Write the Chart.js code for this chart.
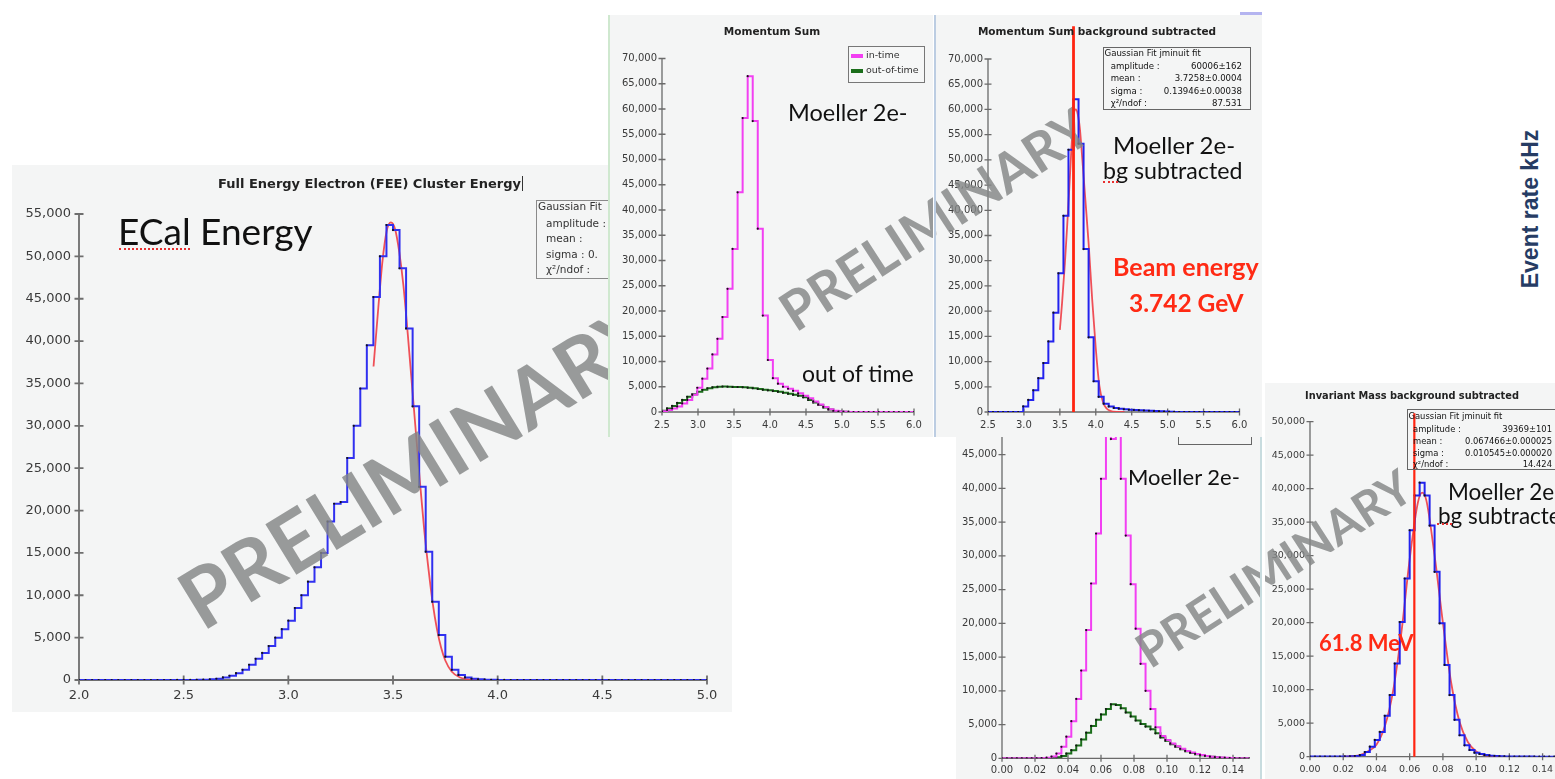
<!DOCTYPE html>
<html>
<head>
<meta charset="utf-8">
<title>Moeller 2e- plots</title>
<script src="https://cdn.jsdelivr.net/npm/chart.js@4.4.1/dist/chart.umd.min.js"></script>
<style>
  body { margin: 0; width: 1555px; height: 779px; overflow: hidden; background: #fff; position: relative; }
  .panel { position: absolute; background: #f4f5f5; overflow: hidden; }
  .panel canvas { position: absolute; left: 0; top: 0; }
  .note { position: absolute; white-space: nowrap; line-height: 1; color: #111; }
  .rect { position: absolute; box-sizing: border-box; }
  #evt { position: absolute; left: 1530px; top: 209px; transform: translate(-50%, -50%) rotate(-90deg);
         font: bold 23px 'Liberation Sans', Arial, sans-serif; color: #263c64; white-space: nowrap; }
</style>
</head>
<body>
<div class="panel" id="p1" style="left:12px;top:165px;width:720px;height:547px"><canvas id="c1"></canvas></div>
<div id="n1"></div>
<div class="panel" id="p2" style="left:609px;top:15px;width:324px;height:422px"><canvas id="c2"></canvas></div>
<div id="n2"></div>
<div class="panel" id="p3" style="left:935px;top:15px;width:327px;height:422px"><canvas id="c3"></canvas></div>
<div id="n3"></div>
<div class="panel" id="p4" style="left:956px;top:437px;width:304px;height:342px"><canvas id="c4"></canvas></div>
<div id="n4"></div>
<div class="panel" id="p5" style="left:1265px;top:383px;width:302px;height:396px"><canvas id="c5"></canvas></div>
<div id="n5"></div>
<div id="evt">Event rate kHz</div>

<script>
// ---- data ----

// Full Energy Electron cluster energy, bins of 0.03125 from 2.0
const feeStart = 2.0;
const feeWidth = 0.03125;
const feeCounts = [
    0, 0, 0, 0, 0, 0, 0, 0, 0, 0,
    0, 0, 0, 0, 0, 5, 5, 10, 20, 40,
    80, 150, 300, 500, 800, 1200, 1800, 2500, 3200, 4000,
    5000, 6000, 7000, 8500, 10000, 11600, 13300, 15000, 18700, 20800,
    21000, 26200, 30000, 34400, 39500, 45200, 50000, 53700, 53100, 48600,
    41500, 32300, 22800, 15150, 9250, 5300, 2750, 1200, 600, 300,
    150, 80, 40, 20, 10, 5, 0, 0, 0, 0,
    0, 0, 0, 0, 0, 0, 0, 0, 0, 0,
    0, 0, 0, 0, 0, 0, 0, 0, 0, 0,
    0, 0, 0, 0, 0, 0
];
const feeFitX = [3.407, 3.43, 3.45, 3.47, 3.49, 3.51, 3.53, 3.55, 3.57, 3.59, 3.61, 3.63, 3.65, 3.67, 3.69, 3.71, 3.73, 3.75, 3.78, 3.82, 3.88, 4.0];
const feeFitY = [37000, 44000, 49500, 53000, 54000, 53200, 50500, 46500, 41000, 35000, 29000, 23000, 17500, 13000, 9000, 6000, 3800, 2300, 1000, 300, 50, 0];
const feeXTicks = [2.0, 2.5, 3.0, 3.5, 4.0, 4.5, 5.0];
const feeYTicks = [0, 5000, 10000, 15000, 20000, 25000, 30000, 35000, 40000, 45000, 50000, 55000];

// Momentum sum, bins of 0.07 from 2.5
const momStart = 2.5;
const momWidth = 0.07;
const momInTime = [
    150, 400, 700, 1100, 1700, 2400, 3400, 4800, 6600, 8600,
    11400, 14500, 18800, 24400, 32300, 43500, 58200, 66500, 57600, 36300,
    19100, 10300, 6700, 5600, 5000, 4600, 4200, 3700, 3200, 2700,
    2100, 1500, 1000, 550, 250, 100, 40, 15, 0, 0,
    0, 0, 0, 0, 0, 0, 0, 0, 0, 0
];
const momOutTime = [
    250, 700, 1200, 1800, 2400, 3000, 3500, 4000, 4400, 4700,
    4900, 5000, 5050, 5000, 4950, 4950, 4900, 4800, 4700, 4550,
    4400, 4300, 4150, 4000, 3800, 3600, 3400, 3200, 2900, 2400,
    1900, 1400, 900, 500, 200, 80, 30, 10, 0, 0,
    0, 0, 0, 0, 0, 0, 0, 0, 0, 0
];
const momBgSub = [
    0, 0, 0, 0, 0, 0, 0, 1100, 2400, 4300,
    6700, 9700, 14000, 19700, 27500, 38900, 52000, 62000, 53200, 32300,
    14800, 6100, 3000, 1650, 1100, 800, 650, 550, 450, 400,
    350, 300, 250, 200, 150, 80, 40, 20, 0, 0,
    0, 0, 0, 0, 0, 0, 0, 0, 0, 0
];
const momFitX = [3.50, 3.53, 3.57, 3.60, 3.63, 3.66, 3.69, 3.72, 3.75, 3.78, 3.80, 3.85, 3.90, 3.95, 4.00, 4.05, 4.10, 4.15, 4.20, 4.30, 4.40];
const momFitY = [16300, 21500, 29500, 36500, 44000, 52000, 58500, 60000, 59000, 56000, 52500, 43000, 33500, 22300, 12600, 5200, 2000, 700, 250, 30, 0];
const momXTicks = [2.5, 3.0, 3.5, 4.0, 4.5, 5.0, 5.5, 6.0];
const momYTicks = [0, 5000, 10000, 15000, 20000, 25000, 30000, 35000, 40000, 45000, 50000, 55000, 60000, 65000, 70000];
const beamLineX = 3.69;
const beamLineTop = 76500;

// Invariant mass, bins of 0.003 from 0
const massStart = 0;
const massWidth = 0.003;
const massInTime = [
    0, 0, 0, 0, 0, 0, 0, 0, 40, 100,
    250, 700, 1700, 3200, 5500, 8800, 13000, 19000, 25900, 33300,
    41400, 48500, 47300, 48500, 41400, 33000, 25800, 19200, 14000, 10000,
    7300, 4600, 3300, 2700, 2200, 1800, 1400, 1100, 850, 650,
    480, 350, 240, 170, 110, 65, 35, 15, 0, 0
];
const massOutTime = [
    0, 0, 0, 0, 0, 0, 0, 0, 0, 20,
    50, 150, 350, 700, 1200, 1900, 2800, 3800, 4800, 5700,
    6500, 7300, 8000, 7900, 7400, 6800, 6200, 5600, 5100, 4700,
    4300, 3700, 3100, 2600, 2100, 1700, 1350, 1050, 800, 600,
    450, 330, 230, 160, 100, 60, 35, 15, 0, 0
];
const massBgSub = [
    30, 30, 30, 30, 30, 30, 30, 40, 60, 100,
    250, 700, 1500, 2500, 3700, 6100, 9200, 13900, 20100, 26600,
    33800, 39000, 40900, 39000, 34500, 27600, 19900, 13700, 9200, 5500,
    3200, 1700, 1000, 600, 400, 250, 150, 100, 60, 40,
    30, 30, 20, 20, 20, 10, 10, 10, 10, 10
];
const massFitX = [0.020, 0.030, 0.035, 0.040, 0.045, 0.050, 0.055, 0.060, 0.065, 0.0675, 0.070, 0.075, 0.080, 0.085, 0.090, 0.095, 0.100, 0.105, 0.110, 0.115];
const massFitY = [0, 250, 800, 1800, 4500, 9800, 18500, 29500, 38000, 39400, 38300, 30000, 20000, 11000, 5200, 2200, 800, 250, 60, 0];
const massXTicks = [0, 0.02, 0.04, 0.06, 0.08, 0.10, 0.12, 0.14];
const massYTicks = [0, 5000, 10000, 15000, 20000, 25000, 30000, 35000, 40000, 45000];
const massBgYTicks = [0, 5000, 10000, 15000, 20000, 25000, 30000, 35000, 40000, 45000, 50000];
const massLineX = 0.0628;
const massLineTop = 51250;

// ---- helpers ----
Chart.defaults.font.family = "'DejaVu Sans', sans-serif";
Chart.defaults.color = '#3a3a3a';

const markColor = 'rgba(132,134,134,0.82)';
// watermarks in page coordinates
const wm1 = { cx: 420, cy: 468, size: 82, angle: -31.5 };
const wm2 = { cx: 936, cy: 221, size: 54, angle: -33 };
const wm3 = { cx: 1275, cy: 570, size: 48, angle: -33 };

function histPoints(start, width, counts) {
    const pts = counts.map((c, i) => ({ x: start + i * width, y: c }));
    // close the last bin
    pts.push({ x: start + counts.length * width, y: counts[counts.length - 1] });
    return pts;
}

function curvePoints(xs, ys) {
    return xs.map((x, i) => ({ x: x, y: ys[i] }));
}

function histSet(points, color) {
    return {
        data: points, stepped: 'before', borderColor: color, borderWidth: 2,
        pointRadius: 1.1, pointBackgroundColor: '#151515', pointBorderWidth: 0, fill: false
    };
}

function fitSet(points) {
    return {
        data: points, borderColor: 'rgba(238,62,70,0.9)', borderWidth: 1.8,
        pointRadius: 0, cubicInterpolationMode: 'monotone', fill: false
    };
}

function decorPlugin(box, extra) {
    return {
        id: 'decor',
        beforeDatasetsDraw(chart) {
            const { ctx, chartArea: a, scales: { x, y } } = chart;
            ctx.save();
            ctx.strokeStyle = extra.axisColor;
            ctx.lineWidth = extra.axisWidth;
            ctx.beginPath();
            ctx.moveTo(a.left, a.top);
            ctx.lineTo(a.left, a.bottom);
            ctx.lineTo(a.right, a.bottom);
            y.ticks.forEach(t => {
                const py = y.getPixelForValue(t.value);
                ctx.moveTo(a.left - extra.tick, py);
                ctx.lineTo(a.left + extra.tick, py);
            });
            x.ticks.forEach(t => {
                const px = x.getPixelForValue(t.value);
                ctx.moveTo(px, a.bottom - extra.tick);
                ctx.lineTo(px, a.bottom + extra.tick);
            });
            ctx.stroke();
            ctx.restore();
        },
        afterDatasetsDraw(chart) {
            const { ctx, chartArea: a, scales: { x, y } } = chart;
            (extra.marks || []).forEach(m => {
                ctx.save();
                ctx.translate(m.cx - box.x, m.cy - box.y);
                ctx.rotate(m.angle * Math.PI / 180);
                ctx.font = `bold ${m.size}px Lato, sans-serif`;
                ctx.fillStyle = markColor;
                ctx.textAlign = 'center';
                ctx.textBaseline = 'middle';
                ctx.fillText('PRELIMINARY', 0, 0);
                ctx.restore();
            });
            if (extra.line) {
                const px = x.getPixelForValue(extra.line.x);
                ctx.save();
                ctx.strokeStyle = '#ff2410';
                ctx.lineWidth = extra.line.width;
                ctx.beginPath();
                ctx.moveTo(px, y.getPixelForValue(extra.line.top));
                ctx.lineTo(px, a.bottom);
                ctx.stroke();
                ctx.restore();
            }
        }
    };
}

// box: panel on the page, plot: plot area on the page
function makePanel(id, box, plot, axis, datasets, extra) {
    const canvas = document.getElementById(id);
    canvas.width = box.w;
    canvas.height = box.h;
    // the axes fill the space left and below the plot, so labels are not clipped
    const yW = plot.l - box.x;
    const xH = box.y + box.h - plot.b;
    const padding = { left: 0, top: plot.t - box.y, right: box.x + box.w - plot.r, bottom: 0 };
    const fix = s => {
        if (s.isHorizontal()) s.height = xH; else s.width = yW;
        s.paddingLeft = s.paddingRight = s.paddingTop = s.paddingBottom = 0;
    };
    return new Chart(canvas, {
        type: 'line',
        data: { datasets: datasets },
        options: {
            responsive: false,
            animation: false,
            events: [],
            layout: { padding: padding, autoPadding: false },
            plugins: { legend: { display: false }, tooltip: { enabled: false } },
            scales: {
                x: {
                    type: 'linear', min: axis.xMin, max: axis.xMax,
                    grid: { display: false, drawTicks: false }, border: { display: false },
                    ticks: {
                        autoSkip: false, maxRotation: 0, padding: axis.xPad, font: { size: axis.font },
                        callback: v => v.toFixed(axis.xDigits)
                    },
                    afterBuildTicks: s => { s.ticks = axis.xTicks.map(v => ({ value: v })); },
                    afterFit: fix
                },
                y: {
                    type: 'linear', min: 0, max: axis.yMax,
                    grid: { display: false, drawTicks: false }, border: { display: false },
                    ticks: {
                        autoSkip: false, padding: axis.yPad, font: { size: axis.font },
                        callback: v => v.toLocaleString('en-US')
                    },
                    afterBuildTicks: s => { s.ticks = axis.yTicks.map(v => ({ value: v })); },
                    afterFit: fix
                }
            }
        },
        plugins: [decorPlugin(box, extra)]
    });
}

function note(parent, text, x, base, size, o = {}) {
    const d = document.createElement('div');
    d.className = 'note';
    d.textContent = text;
    const lato = !o.sans;
    d.style.left = x + 'px';
    d.style.top = (base - (lato ? 0.887 : 0.846) * size) + 'px';
    d.style.fontSize = size + 'px';
    d.style.fontFamily = lato ? "'Lato', sans-serif" : "'DejaVu Sans', sans-serif";
    if (o.bold) d.style.fontWeight = 'bold';
    if (o.color) d.style.color = o.color;
    if (o.anchor === 'middle') d.style.transform = 'translateX(-50%)';
    if (o.anchor === 'end') d.style.transform = 'translateX(-100%)';
    document.getElementById(parent).appendChild(d);
}

function rect(parent, x, y, w, h, css) {
    const d = document.createElement('div');
    d.className = 'rect';
    d.style.cssText = `left:${x}px;top:${y}px;width:${w}px;height:${h}px;` + css;
    document.getElementById(parent).appendChild(d);
}

// ---- panels ----
const magenta = '#f23ff2';
const green = '#1b6e1b';

// FEE cluster energy
makePanel('c1', { x: 12, y: 165, w: 720, h: 547 }, { l: 79, t: 214, r: 707, b: 680 },
    { xMin: 2, xMax: 5, xTicks: feeXTicks, xDigits: 1, yMax: 55000, yTicks: feeYTicks, xPad: 8, yPad: 8, font: 13 },
    [histSet(histPoints(feeStart, feeWidth, feeCounts), '#3030f0'), fitSet(curvePoints(feeFitX, feeFitY))],
    { axisColor: '#6e6e6e', axisWidth: 1.8, tick: 4.5, marks: [wm1] });

// Momentum sum, in-time and out-of-time
makePanel('c2', { x: 609, y: 15, w: 324, h: 422 }, { l: 662, t: 58.5, r: 914, b: 412 },
    { xMin: 2.5, xMax: 6, xTicks: momXTicks, xDigits: 1, yMax: 70000, yTicks: momYTicks, xPad: 7, yPad: 5, font: 10 },
    [histSet(histPoints(momStart, momWidth, momInTime), magenta), histSet(histPoints(momStart, momWidth, momOutTime), green)],
    { axisColor: '#6a6a6a', axisWidth: 1.3, tick: 3.5, marks: [wm2] });

// Momentum sum background subtracted
makePanel('c3', { x: 935, y: 15, w: 327, h: 422 }, { l: 988, t: 59, r: 1239.5, b: 412 },
    { xMin: 2.5, xMax: 6, xTicks: momXTicks, xDigits: 1, yMax: 70000, yTicks: momYTicks, xPad: 7, yPad: 5, font: 10 },
    [histSet(histPoints(momStart, momWidth, momBgSub), '#2222ee'), fitSet(curvePoints(momFitX, momFitY))],
    { axisColor: '#6a6a6a', axisWidth: 1.3, tick: 3.5, marks: [wm2], line: { x: beamLineX, top: beamLineTop, width: 2.8 } });

// Invariant mass, in-time and out-of-time (top cut by the panels above)
makePanel('c4', { x: 956, y: 437, w: 304, h: 342 }, { l: 1002, t: 437, r: 1249.5, b: 758.3 },
    { xMin: 0, xMax: 0.15, xTicks: massXTicks, xDigits: 2, yMax: 47600, yTicks: massYTicks, xPad: 6, yPad: 5, font: 10 },
    [histSet(histPoints(massStart, massWidth, massInTime), magenta), histSet(histPoints(massStart, massWidth, massOutTime), green)],
    { axisColor: '#6a6a6a', axisWidth: 1.3, tick: 3.5, marks: [wm3] });

// Invariant mass background subtracted
makePanel('c5', { x: 1265, y: 383, w: 302, h: 396 }, { l: 1310, t: 421.7, r: 1559.2, b: 756.7 },
    { xMin: 0, xMax: 0.15, xTicks: massXTicks, xDigits: 2, yMax: 50000, yTicks: massBgYTicks, xPad: 7, yPad: 5, font: 9.5 },
    [histSet(histPoints(massStart, massWidth, massBgSub), '#2222ee'), fitSet(curvePoints(massFitX, massFitY))],
    { axisColor: '#6a6a6a', axisWidth: 1.3, tick: 3.5, marks: [wm3], line: { x: massLineX, top: massLineTop, width: 2.2 } });

// ---- texts and boxes ----
const red = '#ff2a14';
const sans = { sans: true };

// panel 1
note('n1', 'Full Energy Electron (FEE) Cluster Energy', 369.5, 188, 13, { sans: true, bold: true, anchor: 'middle', color: '#222' });
rect('n1', 522, 176, 1, 15, 'background:#333');
note('n1', 'ECal Energy', 118, 245, 37);
rect('n1', 119, 247, 71, 3, 'border-bottom:2px dotted #e83030');
rect('n1', 536, 200, 110, 79, 'border:1.5px solid #8a8a8a');
note('n1', 'Gaussian Fit', 538, 210, 10.5, { sans: true, color: '#333' });
note('n1', 'amplitude :', 546, 226.5, 10.5, { sans: true, color: '#333' });
note('n1', 'mean :', 546, 241.6, 10.5, { sans: true, color: '#333' });
note('n1', 'sigma : 0.', 546, 258, 10.5, { sans: true, color: '#333' });
note('n1', 'χ²/ndof :', 546, 273, 10.5, { sans: true, color: '#333' });

// panel 2
rect('n2', 608, 15, 1.5, 422, 'background:#cfe8cf');
note('n2', 'Momentum Sum', 772, 35, 10.5, { sans: true, bold: true, anchor: 'middle', color: '#222' });
rect('n2', 848, 46, 77, 36.5, 'border:1px solid #777;background:#f6f7f7');
rect('n2', 851, 53.5, 12, 4, 'background:' + magenta);
rect('n2', 851, 68.5, 12, 4, 'background:' + green);
note('n2', 'in-time', 866, 58.5, 9.5, { sans: true, color: '#333' });
note('n2', 'out-of-time', 866, 73.5, 9.5, { sans: true, color: '#333' });
note('n2', 'Moeller 2e-', 788, 121.7, 23.5);
note('n2', 'out of time', 802, 382.5, 23);

// panel 3
rect('n3', 933.5, 15, 2, 422, 'background:#bccde2');
rect('n3', 1240, 12, 22, 3, 'background:#b4b4f0');
note('n3', 'Momentum Sum background subtracted', 1097, 35, 10.5, { sans: true, bold: true, anchor: 'middle', color: '#222' });
rect('n3', 1103, 46.5, 148, 63, 'border:1px solid #666');
note('n3', 'Gaussian Fit jminuit fit', 1104.5, 56.7, 8.6, sans);
note('n3', 'amplitude :', 1110.7, 69, 8.6, sans);
note('n3', '60006±162', 1242, 69, 8.6, { sans: true, anchor: 'end' });
note('n3', 'mean :', 1110.7, 81.7, 8.6, sans);
note('n3', '3.7258±0.0004', 1242, 81.7, 8.6, { sans: true, anchor: 'end' });
note('n3', 'sigma :', 1110.7, 94, 8.6, sans);
note('n3', '0.13946±0.00038', 1242, 94, 8.6, { sans: true, anchor: 'end' });
note('n3', 'χ²/ndof :', 1110.7, 106, 8.6, sans);
note('n3', '87.531', 1242, 106, 8.6, { sans: true, anchor: 'end' });
note('n3', 'Moeller 2e-', 1113, 154.3, 24);
note('n3', 'bg subtracted', 1103, 180, 23.2);
rect('n3', 1103, 180, 15, 3, 'border-bottom:2px dotted #e83030');
note('n3', 'Beam energy', 1113, 276, 25, { bold: true, color: red });
note('n3', '3.742 GeV', 1129, 312.3, 24.5, { bold: true, color: red });

// panel 4
rect('n4', 1259.5, 437, 2.5, 342, 'background:#c8dcdf');
rect('n4', 1178, 437, 74, 7.5, 'border:1.5px solid #666;border-top:none');
note('n4', 'Moeller 2e-', 1128, 486, 22);

// panel 5
note('n5', 'Invariant Mass background subtracted', 1412, 399, 9.8, { sans: true, bold: true, anchor: 'middle', color: '#222' });
rect('n5', 1407, 409, 160, 61, 'border:1px solid #666');
note('n5', 'Gaussian Fit jminuit fit', 1408.5, 419.3, 8.4, sans);
note('n5', 'amplitude :', 1413, 431.7, 8.4, sans);
note('n5', '39369±101', 1552, 431.7, 8.4, { sans: true, anchor: 'end' });
note('n5', 'mean :', 1413, 444, 8.4, sans);
note('n5', '0.067466±0.000025', 1552, 444, 8.4, { sans: true, anchor: 'end' });
note('n5', 'sigma :', 1413, 456, 8.4, sans);
note('n5', '0.010545±0.000020', 1552, 456, 8.4, { sans: true, anchor: 'end' });
note('n5', 'χ²/ndof :', 1413, 467.3, 8.4, sans);
note('n5', '14.424', 1552, 467.3, 8.4, { sans: true, anchor: 'end' });
note('n5', 'Moeller 2e-', 1448, 500.7, 22.5);
note('n5', 'bg subtracted', 1438, 525, 22.5);
rect('n5', 1437, 522, 15, 3, 'border-bottom:2px dotted #e83030');
note('n5', '61.8 MeV', 1319, 651.7, 22, { bold: true, color: red });
</script>
</body>
</html>
